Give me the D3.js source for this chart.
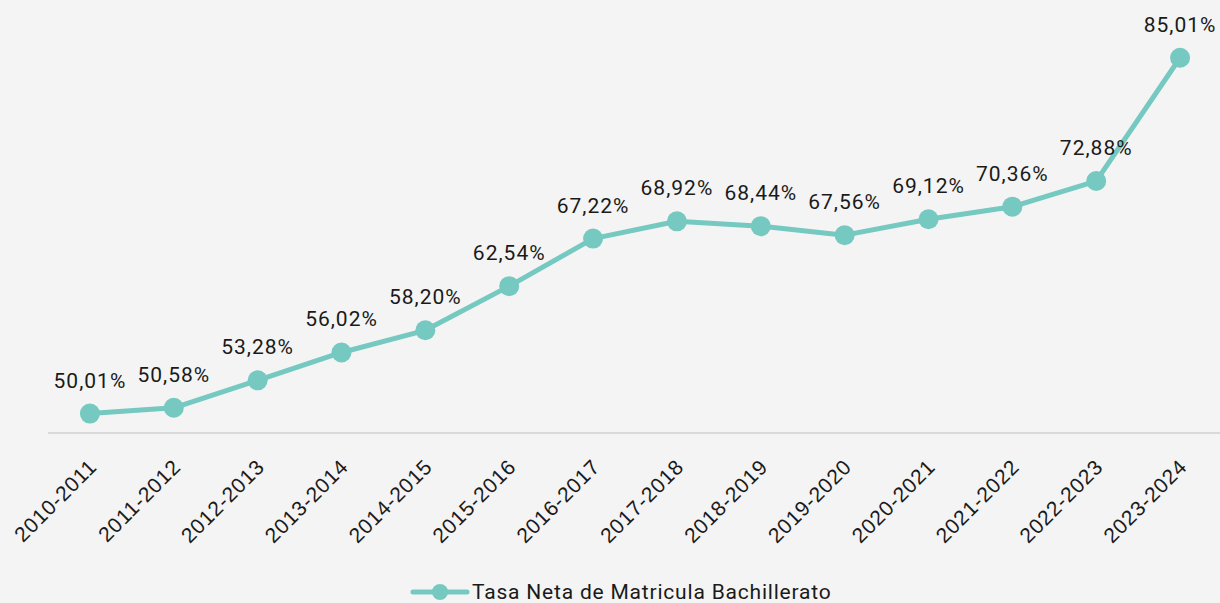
<!DOCTYPE html>
<html>
<head>
<meta charset="utf-8">
<script src="https://cdn.jsdelivr.net/npm/d3@7"></script>
<style>
  body { margin: 0; background: #f4f4f4; }
  svg { display: block; font-family: Roboto, "Open Sans", sans-serif; }
</style>
</head>
<body>
<div id="chart"></div>
<script>
// periods on the x axis
var periods = ["2010-2011", "2011-2012", "2012-2013", "2013-2014", "2014-2015",
  "2015-2016", "2016-2017", "2017-2018", "2018-2019", "2019-2020",
  "2020-2021", "2021-2022", "2022-2023", "2023-2024"];

// net enrolment rate (%)
var rates = [50.01, 50.58, 53.28, 56.02, 58.20, 62.54, 67.22, 68.92, 68.44,
  67.56, 69.12, 70.36, 72.88, 85.01];

var seriesName = "Tasa Neta de Matricula Bachillerato";

var width = 1220;
var height = 603;
var color = "#75c9c1";

var svg = d3.select("#chart")
  .append("svg")
  .attr("width", width)
  .attr("height", height);

svg.append("rect")
  .attr("width", width)
  .attr("height", height)
  .attr("fill", "#f4f4f4");

var xScale = d3.scaleBand()
  .domain(periods)
  .range([48, 1222]);

var yScale = d3.scaleLinear()
  .domain([48, 90])
  .range([434, 7]);

var data = periods.map(function(p, i) {
  return { period: p, value: rates[i] };
});

function cx(d) { return xScale(d.period) + xScale.bandwidth() / 2; }

// axis line
svg.append("line")
  .attr("x1", 48)
  .attr("x2", 1220)
  .attr("y1", 433)
  .attr("y2", 433)
  .attr("stroke", "#d9d9d9")
  .attr("stroke-width", 2);

// x axis labels, rotated
var xAxis = d3.axisBottom(xScale).tickSize(0).tickPadding(0);
var gx = svg.append("g")
  .attr("transform", "translate(0,433)")
  .call(xAxis);
gx.select(".domain").remove();
gx.selectAll("text")
  .attr("font-size", 21)
  .attr("letter-spacing", 0.8)
  .attr("fill", "#1a1a1a")
  .attr("text-anchor", "end")
  .attr("dy", "0.35em")
  .attr("transform", "translate(3,30) rotate(-45)");

// the line
var line = d3.line()
  .x(cx)
  .y(function(d) { return yScale(d.value); });

svg.append("path")
  .datum(data)
  .attr("d", line)
  .attr("fill", "none")
  .attr("stroke", color)
  .attr("stroke-width", 5)
  .attr("stroke-linejoin", "round");

svg.selectAll("circle.pt")
  .data(data)
  .enter()
  .append("circle")
  .attr("class", "pt")
  .attr("cx", cx)
  .attr("cy", function(d) { return yScale(d.value); })
  .attr("r", 10)
  .attr("fill", color);

// value labels
svg.selectAll("text.lbl")
  .data(data)
  .enter()
  .append("text")
  .attr("class", "lbl")
  .attr("x", cx)
  .attr("y", function(d) { return yScale(d.value) - 26; })
  .attr("text-anchor", "middle")
  .attr("font-size", 21)
  .attr("letter-spacing", 1)
  .attr("fill", "#1a1a1a")
  .text(function(d) { return d3.format(".2f")(d.value).replace(".", ",") + "%"; });

// legend
var legend = svg.append("g").attr("transform", "translate(413,592)");
legend.append("line")
  .attr("x1", 0).attr("x2", 54)
  .attr("stroke", color)
  .attr("stroke-width", 5)
  .attr("stroke-linecap", "round");
legend.append("circle")
  .attr("cx", 27)
  .attr("r", 8)
  .attr("fill", color);
legend.append("text")
  .attr("x", 59)
  .attr("dy", "0.35em")
  .attr("font-size", 21)
  .attr("letter-spacing", 0.8)
  .attr("fill", "#1a1a1a")
  .text(seriesName);
</script>
</body>
</html>
